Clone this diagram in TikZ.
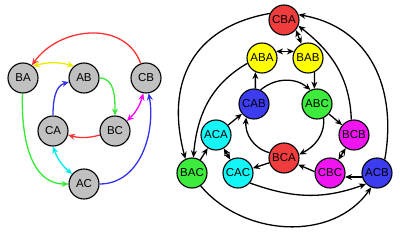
\documentclass[tikz,border=0pt]{standalone}
\usepackage{fontspec}
\setmainfont{Liberation Sans}
\usetikzlibrary{arrows.meta}
\definecolor{nred}{RGB}{240,60,60}
\definecolor{nblue}{RGB}{60,60,240}
\definecolor{ngreen}{RGB}{60,235,60}
\definecolor{nyellow}{RGB}{255,255,0}
\definecolor{ncyan}{RGB}{20,245,245}
\definecolor{nmag}{RGB}{240,20,240}
\definecolor{ngray}{RGB}{192,192,192}
\definecolor{ered}{RGB}{250,50,50}
\definecolor{eblue}{RGB}{50,50,240}
\definecolor{egreen}{RGB}{50,235,50}
\definecolor{eyellow}{RGB}{235,235,0}
\definecolor{ecyan}{RGB}{0,235,235}
\definecolor{emag}{RGB}{250,0,250}
\tikzset{
  st/.style={circle,draw=black,line width=1.1pt,minimum size=30pt,inner sep=0pt,font=\fontsize{11.5}{13}\selectfont},
  edge/.style={line width=1.3pt,-{Stealth[length=7pt,width=6pt]}},
  dedge/.style={line width=1.3pt,{Stealth[length=7pt,width=6pt]}-{Stealth[length=7pt,width=6pt]}},
}
\begin{document}
\begin{tikzpicture}[x=1pt,y=1pt]
\useasboundingbox (0,0) rectangle (400,231);
% left graph
\node[st,fill=ngray] (BA) at (23,153) {BA};
\node[st,fill=ngray] (AB) at (84,153) {AB};
\node[st,fill=ngray] (CB) at (146,153) {CB};
\node[st,fill=ngray] (CA) at (53,100) {CA};
\node[st,fill=ngray] (BC) at (115,100) {BC};
\node[st,fill=ngray] (AC) at (84,47) {AC};
\draw[edge,ered] (CB) to[out=110,in=55,looseness=1.1] (BA);
\draw[edge,egreen] (BA) to[out=-92,in=180] (AC);
\draw[edge,eblue] (AC) to[out=0,in=-80] (CB);
\draw[edge,eblue] (CA) to[out=90,in=195] (AB);
\draw[edge,egreen] (AB) to[out=0,in=90] (BC);
\draw[edge,ered] (BC) to[out=195,in=-15] (CA);
\draw[dedge,eyellow] (BA.50) to[bend left=15] (AB.130);
\draw[dedge,emag] (CB.-100) to[bend left=15] (BC.40);
\draw[dedge,ecyan] (CA.-90) to[bend right=15] (AC.140);
% right graph
\node[st,fill=nred] (CBA) at (284,211) {CBA};
\node[st,fill=nyellow] (ABA) at (262,173) {ABA};
\node[st,fill=nyellow] (BAB) at (308,173) {BAB};
\node[st,fill=nblue] (CAB) at (254,127) {CAB};
\node[st,fill=ngreen] (ABC) at (317,127) {ABC};
\node[st,fill=ncyan] (ACA) at (216,96) {ACA};
\node[st,fill=nmag] (BCB) at (354,96) {BCB};
\node[st,fill=nred] (BCA) at (284,73) {BCA};
\node[st,fill=ngreen] (BAC) at (192,58) {BAC};
\node[st,fill=ncyan] (CAC) at (238,58) {CAC};
\node[st,fill=nmag] (CBC) at (330,58) {CBC};
\node[st,fill=nblue] (ACB) at (377,58) {ACB};
\draw[dedge] (CBA.-40) -- (BAB.115);
\draw[dedge] (ABA.25) -- (BAB.155);
\draw[edge] (BAB.-65) -- (ABC.100);
\draw[edge] (CAB.85) -- (ABA.-115);
\draw[edge] (CAB.65) to[out=40,in=140] (ABC.115);
\draw[edge] (ABC.-65) to[out=-85,in=27] (BCA.13);
\draw[edge] (BCA.160) to[out=165,in=-95] (CAB.-120);
\draw[edge] (ABC) -- (BCB);
\draw[dedge] (BCB) -- (CBC);
\draw[edge] (CBC.175) -- (BCA.-25);
\draw[edge] (ACB.-165) -- (CBC.-15);
\draw[edge] (BCA) -- (CAC);
\draw[dedge] (CAC) -- (ACA);
\draw[edge] (ACA) -- (CAB);
\draw[edge] (BAC) -- (ACA);
\draw[edge] (ABA.200) to[out=210,in=85] (BAC.85);
\draw[edge] (CBA.155) to[out=190,in=105,looseness=1.2] (BAC.115);
\draw[edge] (BCB.100) to[out=92,in=-38] (CBA.-22);
\draw[edge] (ACB.60) to[out=80,in=-10,looseness=1.1] (CBA.20);
\draw[edge] (CAC.-40) to[out=-20,in=-160] (ACB.-135);
\draw[edge] (BAC.-56) to[out=-50,in=-125] (ACB.-112);
\end{tikzpicture}
\end{document}
